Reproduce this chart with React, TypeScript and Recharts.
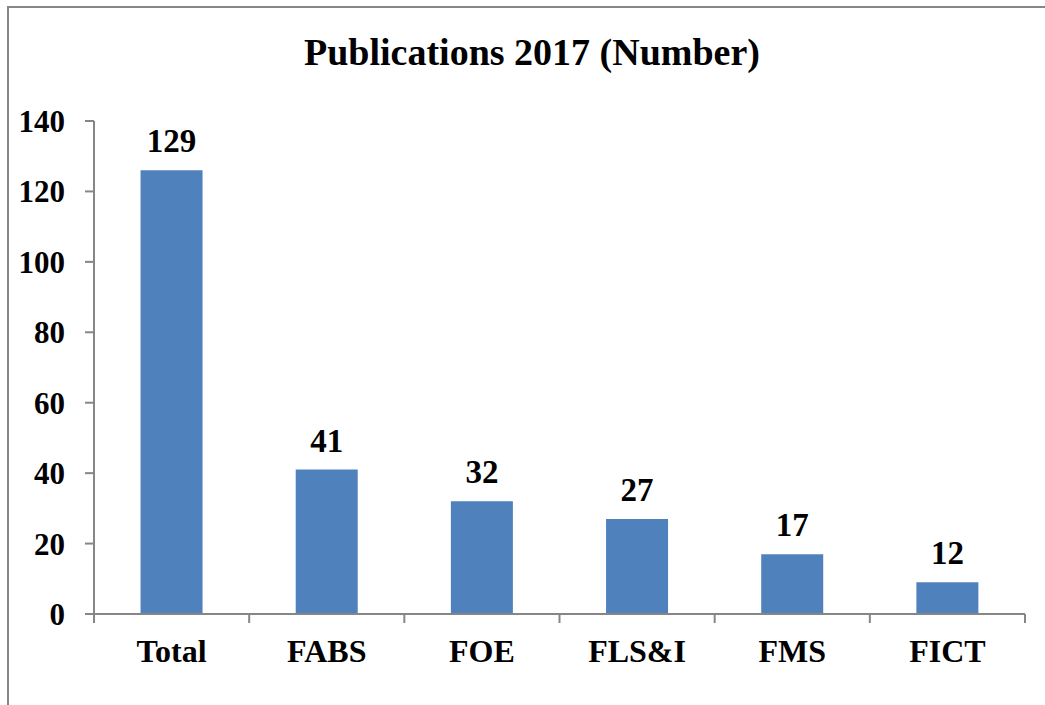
import React from "react"
import { BarChart, Bar, XAxis, YAxis, LabelList } from "recharts"

const categories = ["Total", "FABS", "FOE", "FLS&I", "FMS", "FICT"]
const values = [126, 41, 32, 27, 17, 9]
const valueLabels = ["129", "41", "32", "27", "17", "12"]
const yTicks = [0, 20, 40, 60, 80, 100, 120, 140]

const data = categories.map((name, i) => ({ name, value: values[i], label: valueLabels[i] }))

const W = 1045
const H = 705
const margin = { top: 121, right: 20, bottom: 31, left: 0 }
const yAxisWidth = 94
const band = (W - margin.left - margin.right - yAxisWidth) / categories.length

const font = "Liberation Serif, Times New Roman, Times, serif"
const axisGray = "#868686"

function XTick(props: any) {
  const { x, y, payload, index } = props
  const left = x - band / 2
  return (
    <g>
      <line x1={left} y1={y - 8} x2={left} y2={y + 1} stroke={axisGray} strokeWidth={2} />
      {index === categories.length - 1 && (
        <line x1={x + band / 2} y1={y - 8} x2={x + band / 2} y2={y + 1} stroke={axisGray} strokeWidth={2} />
      )}
      <text x={x} y={y + 40} textAnchor="middle" style={{ fontFamily: font }} fontWeight="bold" fontSize={32} fill="#000">
        {payload.value}
      </text>
    </g>
  )
}

export default function App() {
  return (
    <div style={{ position: "absolute", left: 0, top: 0, width: W, height: H, background: "#fff", overflow: "hidden", fontFamily: font }}>
      <div
        style={{
          position: "absolute",
          left: 7,
          top: 6,
          width: W,
          height: H,
          borderLeft: `2px solid ${axisGray}`,
          borderTop: `2px solid ${axisGray}`,
        }}
      />
      <div
        style={{
          position: "absolute",
          left: 0,
          top: 33,
          width: 1064,
          textAlign: "center",
          fontWeight: "bold",
          fontSize: 38,
          lineHeight: "38px",
          color: "#000",
        }}
      >
        Publications 2017 (Number)
      </div>
      <div style={{ position: "absolute", left: 0, top: 0 }}>
        <BarChart width={W} height={H} data={data} margin={margin} barCategoryGap="30%" style={{ fontFamily: font }}>
          <XAxis
            dataKey="name"
            height={60}
            axisLine={{ stroke: axisGray, strokeWidth: 2 }}
            tickLine={false}
            tick={<XTick />}
            interval={0}
          />
          <YAxis
            width={yAxisWidth}
            domain={[0, 140]}
            ticks={yTicks}
            interval={0}
            axisLine={{ stroke: axisGray, strokeWidth: 2 }}
            tickLine={{ stroke: axisGray, strokeWidth: 2 }}
            tickSize={9}
            tickMargin={20}
            tick={{ fontWeight: "bold", fontSize: 31, fill: "#000" }}
          />
          <Bar dataKey="value" fill="#4F81BD" isAnimationActive={false}>
            <LabelList dataKey="label" position="top" offset={18} fontWeight="bold" fontSize={33} fill="#000" />
          </Bar>
        </BarChart>
      </div>
    </div>
  )
}
